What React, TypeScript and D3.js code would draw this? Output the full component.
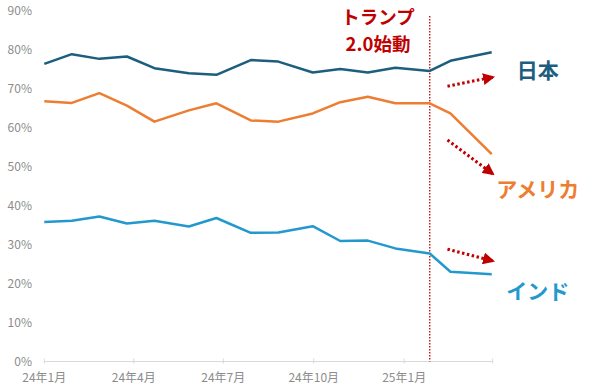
import React from 'react';
import * as d3 from 'd3';

const W = 600;
const H = 390;
const FONT = '"Noto Sans CJK JP", "Noto Sans", sans-serif';

// survey dates (roughly the last Monday of each month)
const dates = [
  '2024-01-01', '2024-01-29', '2024-02-26', '2024-03-25', '2024-04-22', '2024-05-27',
  '2024-06-24', '2024-07-29', '2024-08-26', '2024-09-30', '2024-10-28', '2024-11-25',
  '2024-12-23', '2025-01-27', '2025-02-17', '2025-03-31',
];
const japan = [76.3, 78.8, 77.6, 78.2, 75.2, 73.9, 73.5, 77.3, 76.9, 74.1, 75.0, 74.1, 75.3, 74.5, 77.1, 79.3];
const usa = [66.7, 66.3, 68.8, 65.6, 61.5, 64.4, 66.2, 61.8, 61.5, 63.6, 66.5, 67.9, 66.2, 66.2, 63.6, 53.2];
const india = [35.8, 36.1, 37.2, 35.4, 36.1, 34.6, 36.8, 33.0, 33.1, 34.7, 30.9, 31.0, 29.0, 27.7, 23.0, 22.4];

const yTicks = [0, 10, 20, 30, 40, 50, 60, 70, 80, 90];
const xTickDates = ['2024-01-01', '2024-04-01', '2024-07-01', '2024-10-01', '2025-01-01', '2025-04-01'];
const xTickLabels = ['24年1月', '24年4月', '24年7月', '24年10月', '25年1月', ''];
const markerDate = '2025-01-27';

const parse = d3.utcParse('%Y-%m-%d');

const x = d3
  .scaleUtc()
  .domain([parse('2024-01-01')!, parse('2025-04-01')!])
  .range([44.3, 492.7]);

const y = d3.scaleLinear().domain([0, 90]).range([361.5, 10.5]);

const series = [
  { name: '日本', values: japan, color: '#1D5E7E', arrow: [70.6, 72.9], labelY: 71 },
  { name: 'アメリカ', values: usa, color: '#ED7D31', arrow: [56.8, 48.1], labelY: 190 },
  { name: 'インド', values: india, color: '#2398CF', arrow: [28.8, 25.8], labelY: 292 },
];

const line = d3
  .line<[Date, number]>()
  .x(d => x(d[0]))
  .y(d => y(d[1]));

const RED = '#C00000';

export default function App() {
  const xs = dates.map(d => parse(d)!);
  const mx = x(parse(markerDate)!);
  const xEnd = x.range()[1];
  const arrowX0 = x(parse('2025-02-14')!);

  return (
    <svg
      width={W}
      height={H}
      style={{ position: 'absolute', left: 0, top: 0, background: '#fff' }}
      fontFamily={FONT}
    >
      <defs>
        <marker id="tri" viewBox="0 0 10 10" refX="8" refY="5" markerWidth="4" markerHeight="4" orient="auto">
          <path d="M0,0 L10,5 L0,10 Z" fill={RED} />
        </marker>
      </defs>

      {/* y axis labels */}
      {yTicks.map(t => (
        <text key={t} x={32} y={y(t)} dy="0.35em" textAnchor="end" fontSize={12} fill="#8C8C8C">
          {t}%
        </text>
      ))}

      {/* x axis */}
      <line x1={x.range()[0]} x2={xEnd} y1={y(0)} y2={y(0)} stroke="#D9D9D9" strokeWidth={1} />
      {xTickDates.map((d, i) => {
        const xx = x(parse(d)!);
        return (
          <g key={d}>
            <line x1={xx} x2={xx} y1={y(0) - 3} y2={y(0) + 2} stroke="#D9D9D9" />
            <text x={xx} y={382} textAnchor="middle" fontSize={12} fill="#8C8C8C">
              {xTickLabels[i]}
            </text>
          </g>
        );
      })}

      {/* marker line */}
      <line x1={mx} x2={mx} y1={16} y2={y(0)} stroke={RED} strokeWidth={1.3} strokeDasharray="1.5 1.5" />
      <text x={378} y={24} textAnchor="middle" fontSize={18.5} fontWeight={700} fill={RED}>
        トランプ
      </text>
      <text x={378} y={51} textAnchor="middle" fontSize={18.5} fontWeight={700} fill={RED}>
        2.0始動
      </text>

      {/* lines */}
      {series.map(s => (
        <path
          key={s.name}
          d={line(xs.map((d, i) => [d, s.values[i]]))!}
          fill="none"
          stroke={s.color}
          strokeWidth={2.5}
          strokeLinejoin="round"
        />
      ))}

      {/* arrows + labels */}
      {series.map(s => (
        <g key={s.name + '-a'}>
          <line
            x1={arrowX0}
            y1={y(s.arrow[0])}
            x2={xEnd}
            y2={y(s.arrow[1])}
            stroke={RED}
            strokeWidth={3}
            strokeDasharray="2.5 2.5"
            markerEnd="url(#tri)"
          />
          <text
            x={xEnd + 45}
            y={s.labelY}
            dy="0.35em"
            textAnchor="middle"
            fontSize={21}
            fontWeight={700}
            fill={s.color}
          >
            {s.name}
          </text>
        </g>
      ))}
    </svg>
  );
}
